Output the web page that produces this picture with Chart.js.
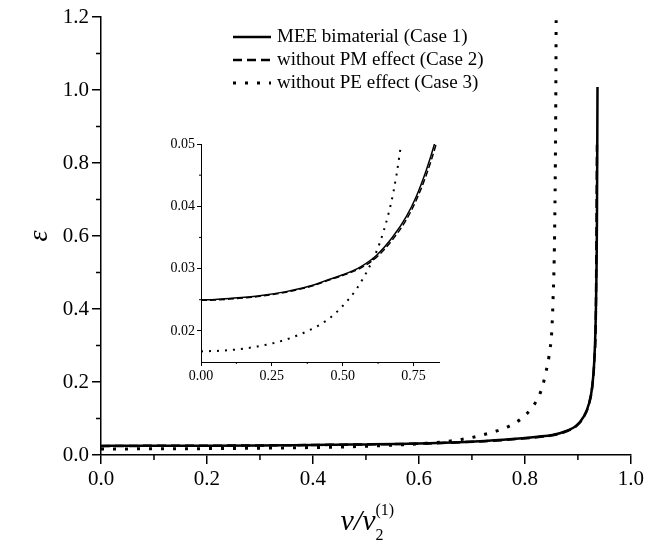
<!DOCTYPE html>
<html>
<head>
<meta charset="utf-8">
<script src="https://cdn.jsdelivr.net/npm/chart.js@4.4.0/dist/chart.umd.min.js"></script>
<style>
    body { margin: 0; background: #fff; }
    #wrap { position: relative; width: 647px; height: 546px; }
    #main { position: absolute; left: 0; top: 0; }
    #inset { position: absolute; left: 140px; top: 130px; }
</style>
</head>
<body>
<div id="wrap">
    <canvas id="main" width="647" height="546"></canvas>
    <canvas id="inset" width="310" height="260"></canvas>
</div>
<script>
"use strict";

var SERIF = '"Liberation Serif", "DejaVu Serif", serif';

// series (x = v / v2(1), y = epsilon)
var case1X = [0, 0.05, 0.10, 0.20, 0.30, 0.35, 0.40, 0.442, 0.50, 0.56, 0.619, 0.677, 0.724, 0.759, 0.795, 0.824, 0.852, 0.877, 0.896, 0.911, 0.921, 0.927, 0.931, 0.934, 0.936, 0.937];
var case1Y = [0.0250, 0.02505, 0.0252, 0.0256, 0.0263, 0.0268, 0.0274, 0.0281, 0.0290, 0.0302, 0.0321, 0.0351, 0.0383, 0.0415, 0.0458, 0.0500, 0.055, 0.065, 0.079, 0.105, 0.141, 0.187, 0.26, 0.40, 0.65, 1.008];

var case2X = [0, 0.05, 0.10, 0.20, 0.30, 0.35, 0.40, 0.442, 0.50, 0.56, 0.619, 0.677, 0.724, 0.759, 0.795, 0.830, 0.852, 0.877, 0.896, 0.911, 0.921, 0.927, 0.931, 0.934, 0.936];
var case2Y = [0.0249, 0.02495, 0.0251, 0.0255, 0.0262, 0.0267, 0.0273, 0.0280, 0.0289, 0.0300, 0.0318, 0.0347, 0.0378, 0.0409, 0.0450, 0.0500, 0.054, 0.064, 0.078, 0.104, 0.140, 0.186, 0.26, 0.40, 0.85];

var case3X = [0, 0.10, 0.20, 0.30, 0.40, 0.45, 0.50, 0.55, 0.60, 0.63, 0.66, 0.68, 0.70, 0.725, 0.747, 0.769, 0.792, 0.812, 0.826, 0.834, 0.839, 0.844, 0.847, 0.850, 0.853, 0.856, 0.858, 0.859];
var case3Y = [0.0167, 0.0169, 0.0175, 0.0186, 0.0205, 0.0219, 0.0240, 0.0268, 0.0308, 0.0340, 0.0385, 0.0425, 0.0480, 0.057, 0.066, 0.078, 0.098, 0.127, 0.160, 0.192, 0.224, 0.256, 0.288, 0.322, 0.42, 0.60, 0.90, 1.20];

var seriesLabels = ["MEE bimaterial (Case 1)", "without PM effect (Case 2)", "without PE effect (Case 3)"];

var mainXRange = [0, 1.0];
var mainYRange = [0, 1.2];
var mainStep = 0.2;
var insetXRange = [0, 0.84];
var insetYRange = [0.015, 0.05];
var insetXStep = 0.25;
var insetYStep = 0.01;

function toPoints(xs, ys) {
    return xs.map(function (x, i) {
        return { x: x, y: ys[i] };
    });
}

function makeDatasets(solidW, dashW, dotW, dash, dot) {
    return [
        {
            label: seriesLabels[0],
            data: toPoints(case1X, case1Y),
            borderColor: "#000",
            borderWidth: solidW,
        },
        {
            label: seriesLabels[1],
            data: toPoints(case2X, case2Y),
            borderColor: "#000",
            borderWidth: dashW,
            borderDash: dash,
        },
        {
            label: seriesLabels[2],
            data: toPoints(case3X, case3Y),
            borderColor: "#000",
            borderWidth: dotW,
            borderDash: dot,
        },
    ].map(function (ds) {
        ds.showLine = true;
        ds.pointRadius = 0;
        ds.fill = false;
        ds.cubicInterpolationMode = "monotone";
        return ds;
    });
}

// short ticks half way between the labelled ones
var minorTicks = {
    id: "minorTicks",
    afterDraw: function (chart, args, opts) {
        var ctx = chart.ctx;
        var area = chart.chartArea;
        ctx.save();
        ctx.strokeStyle = "#000";
        ctx.lineWidth = opts.width;
        ["x", "y"].forEach(function (id) {
            var scale = chart.scales[id];
            var t = scale.ticks;
            for (var i = 0; i < t.length - 1; i++) {
                var p = scale.getPixelForValue((t[i].value + t[i + 1].value) / 2);
                ctx.beginPath();
                if (id === "x") {
                    ctx.moveTo(p, area.bottom);
                    ctx.lineTo(p, area.bottom + opts.len);
                } else {
                    ctx.moveTo(area.left, p);
                    ctx.lineTo(area.left - opts.len, p);
                }
                ctx.stroke();
            }
        });
        ctx.restore();
    },
};

var innerLegend = {
    id: "innerLegend",
    afterDraw: function (chart, args, opts) {
        var ctx = chart.ctx;
        ctx.save();
        ctx.font = opts.size + "px " + SERIF;
        ctx.fillStyle = "#000";
        ctx.textBaseline = "middle";
        chart.data.datasets.forEach(function (ds, i) {
            var y = opts.y + i * opts.gap;
            ctx.strokeStyle = "#000";
            ctx.lineWidth = ds.borderWidth;
            ctx.setLineDash(ds.borderDash || []);
            ctx.beginPath();
            ctx.moveTo(opts.x, y);
            ctx.lineTo(opts.x + opts.line, y);
            ctx.stroke();
            ctx.setLineDash([]);
            ctx.fillText(ds.label, opts.x + opts.line + 6, y);
        });
        ctx.restore();
    },
};

var axisTitles = {
    id: "axisTitles",
    afterDraw: function (chart) {
        var ctx = chart.ctx;
        ctx.save();
        ctx.fillStyle = "#000";
        ctx.textBaseline = "alphabetic";
        // x title: v / v2(1)
        ctx.font = "italic 30px " + SERIF;
        ctx.textAlign = "left";
        var main = "\u03bd/\u03bd";
        var w = ctx.measureText(main).width;
        var x0 = 367 - (w + 18) / 2;
        ctx.fillText(main, x0, 530);
        ctx.font = "16px " + SERIF;
        ctx.fillText("(1)", x0 + w, 515);
        ctx.fillText("2", x0 + w, 540);
        // y title: epsilon
        ctx.translate(40, 236);
        ctx.rotate(-Math.PI / 2);
        ctx.textAlign = "center";
        ctx.textBaseline = "middle";
        ctx.font = "italic 28px " + SERIF;
        ctx.fillText("\u03b5", 0, 0);
        ctx.restore();
    },
};

function axis(range, step, digits, size, tickLen, lineW, pad) {
    return {
        type: "linear",
        min: range[0],
        max: range[1],
        ticks: {
            stepSize: step,
            includeBounds: false,
            color: "#000",
            padding: pad,
            maxRotation: 0,
            font: { family: SERIF, size: size },
            callback: function (v) {
                return Number(v).toFixed(digits);
            },
        },
        grid: {
            drawOnChartArea: false,
            drawTicks: true,
            tickLength: tickLen,
            color: "#000",
            lineWidth: lineW,
        },
        border: { display: true, color: "#000", width: lineW },
    };
}

Chart.defaults.devicePixelRatio = 1;

var mainX = axis(mainXRange, mainStep, 1, 21, 9, 1.5, 3);
mainX.afterFit = function (s) { s.height = 91; };
var mainY = axis(mainYRange, mainStep, 1, 21, 9, 1.5, 3);
mainY.afterFit = function (s) { s.width = 101; };

new Chart(document.getElementById("main"), {
    type: "scatter",
    data: { datasets: makeDatasets(2.5, 2.5, 3, [9, 5], [3, 9]) },
    options: {
        responsive: false,
        animation: false,
        layout: { padding: { left: 0, right: 15, top: 17, bottom: 0 } },
        scales: { x: mainX, y: mainY },
        plugins: {
            legend: { display: false },
            tooltip: { enabled: false },
            minorTicks: { len: 5, width: 1.5 },
            innerLegend: { x: 233, y: 37, gap: 23, line: 38, size: 19 },
        },
    },
    plugins: [minorTicks, innerLegend, axisTitles],
});

var insetX = axis(insetXRange, insetXStep, 2, 14, 4, 1, 2);
insetX.afterFit = function (s) { s.height = 28; };
var insetY = axis(insetYRange, insetYStep, 2, 14, 4, 1, 2);
insetY.afterFit = function (s) { s.width = 61; };

new Chart(document.getElementById("inset"), {
    type: "scatter",
    data: { datasets: makeDatasets(1.5, 1.5, 2, [6, 3], [2, 6]) },
    options: {
        responsive: false,
        animation: false,
        layout: { padding: { left: 0, right: 11, top: 14, bottom: 0 } },
        scales: { x: insetX, y: insetY },
        plugins: {
            legend: { display: false },
            tooltip: { enabled: false },
            minorTicks: { len: 2, width: 1 },
        },
    },
    plugins: [minorTicks],
});
</script>
</body>
</html>
